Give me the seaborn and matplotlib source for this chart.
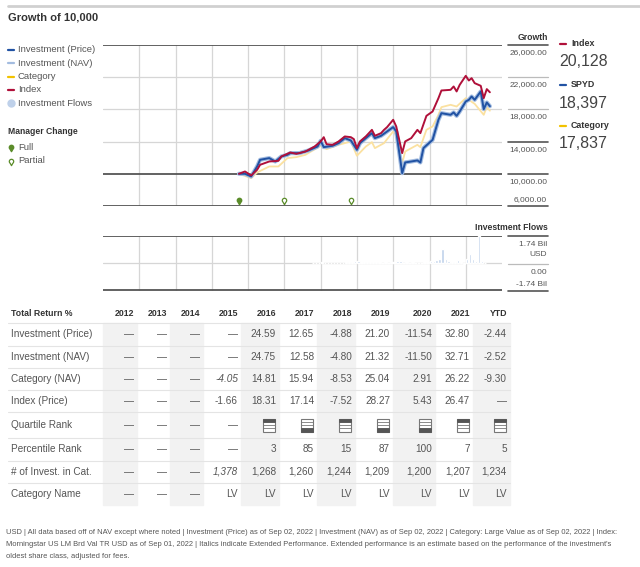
import numpy as np
import pandas as pd
import matplotlib.pyplot as plt
from matplotlib.lines import Line2D
from matplotlib.patches import Rectangle
from matplotlib.path import Path
import seaborn as sns

sns.set_theme(style='white')
plt.rcParams['font.family'] = ['Liberation Sans', 'DejaVu Sans']

# Growth of 10,000
index_dates = ['2015-10', '2015-12', '2016-02', '2016-04', '2016-05', '2016-08', '2016-11', '2016-12',
               '2017-03', '2017-05', '2017-08', '2017-11', '2018-01', '2018-02', '2018-03', '2018-05',
               '2018-07', '2018-09', '2018-11', '2018-12', '2019-01', '2019-02', '2019-04', '2019-06',
               '2019-07', '2019-09', '2019-10', '2019-11', '2020-01', '2020-02', '2020-04', '2020-05',
               '2020-07', '2020-09', '2020-10', '2020-12', '2021-02', '2021-04', '2021-05', '2021-08',
               '2021-09', '2021-10', '2021-11', '2022-01', '2022-02', '2022-03', '2022-04', '2022-06',
               '2022-07', '2022-08', '2022-09']
index_values = [10000, 10290, 9790, 10500, 11120, 11530, 11610, 12150,
                12650, 12480, 12770, 13390, 14020, 14550, 13680, 13600,
                14020, 14640, 14550, 14310, 13190, 14020, 14640, 15460,
                14720, 15050, 15460, 15800, 16710, 15880, 12570, 14020,
                14430, 15460, 15050, 17200, 17740, 19400, 20350, 20430,
                20850, 20230, 21050, 22170, 21590, 21880, 21260, 20930,
                19400, 20520, 20128]

price_dates = ['2015-10', '2015-12', '2016-02', '2016-04', '2016-05', '2016-08', '2016-10', '2016-12',
               '2017-02', '2017-03', '2017-06', '2017-09', '2017-12', '2018-01', '2018-02', '2018-05',
               '2018-07', '2018-09', '2018-11', '2019-01', '2019-02', '2019-04', '2019-06', '2019-07',
               '2019-09', '2019-11', '2020-01', '2020-02', '2020-04', '2020-05', '2020-07', '2020-09',
               '2020-10', '2020-11', '2021-02', '2021-04', '2021-05', '2021-08', '2021-09', '2021-10',
               '2021-11', '2022-01', '2022-02', '2022-03', '2022-04', '2022-06', '2022-07', '2022-08',
               '2022-09']
price_values = [10000, 10000, 9670, 10910, 11740, 11950, 11530, 12150,
                12360, 12570, 12570, 12900, 13390, 14100, 13310, 13480,
                13810, 14430, 14140, 12980, 13810, 14430, 15050, 14430,
                14720, 15260, 15800, 15260, 10080, 11410, 11530, 11660,
                11410, 13190, 14220, 16710, 17530, 17330, 17620, 17200,
                17740, 18980, 19190, 19600, 19190, 20230, 18030, 18860,
                18397]
nav_values = [10000, 10000, 9670, 10910, 11740, 11950, 11530, 12150,
              12360, 12570, 12570, 12900, 13390, 14100, 13310, 13480,
              13810, 14430, 14140, 12980, 13810, 14430, 15050, 14430,
              14720, 15260, 15800, 15260, 10080, 11410, 11530, 11660,
              11410, 13190, 14220, 16710, 17530, 17330, 17620, 17200,
              17740, 18980, 19190, 19600, 19190, 20230, 18030, 18860,
              18397]

cat_dates = ['2015-10', '2016-02', '2016-04', '2016-08', '2016-11', '2017-02', '2017-05', '2017-08',
             '2018-01', '2018-03', '2018-07', '2018-11', '2019-01', '2019-04', '2019-06', '2019-07',
             '2019-10', '2020-01', '2020-02', '2020-04', '2020-05', '2020-09', '2020-10', '2020-12',
             '2021-02', '2021-04', '2021-05', '2021-08', '2021-10', '2022-01', '2022-02', '2022-04',
             '2022-07', '2022-08', '2022-09']
cat_values = [10000, 9460, 10170, 10910, 10910, 11950, 12070, 12360,
              13480, 13060, 13600, 14020, 12240, 13390, 13930, 13190,
              13810, 15260, 14840, 11320, 12770, 13600, 13310, 15460,
              15880, 17330, 18280, 18570, 18360, 19400, 19190, 18690,
              17330, 18280, 17837]

# Investment flows, USD bil per month
flow_months = ['2017-10', '2017-11', '2017-12', '2018-01', '2018-02', '2018-03', '2018-04', '2018-05',
               '2018-06', '2018-07', '2018-08', '2018-09', '2018-10', '2018-11', '2018-12', '2019-01',
               '2019-02', '2019-03', '2019-04', '2019-05', '2019-06', '2019-07', '2019-08', '2019-09',
               '2019-10', '2019-11', '2019-12', '2020-01', '2020-02', '2020-03', '2020-04', '2020-05',
               '2020-06', '2020-07', '2020-08', '2020-09', '2020-10', '2020-11', '2020-12', '2021-01',
               '2021-02', '2021-03', '2021-04', '2021-05', '2021-06', '2021-07', '2021-08', '2021-09',
               '2021-10', '2021-11', '2021-12', '2022-01', '2022-02', '2022-03', '2022-04', '2022-05',
               '2022-06', '2022-07']
flow_values = [0.02, 0.03, 0.02, 0.04, 0.03, 0.02, 0.03, 0.03,
               0.02, 0.03, 0.03, 0.04, 0.05, 0.06, 0.14, 0.10,
               0.08, 0.09, 0.06, 0.08, 0.05, 0.04, 0.05, 0.03,
               0.04, 0.03, 0.04, 0.05, 0.12, 0.10, 0.02, 0.06,
               0.02, 0.04, 0.03, 0.02, 0.03, 0.05, 0.08, 0.10,
               0.14, 0.20, 0.25, 0.92, 0.29, 0.10, 0.04, 0.05,
               0.18, 0.06, -0.08, 0.25, 0.55, 0.25, 0.10, 1.72,
               0.10, 0.03]

manager_full = ['2015-10']
manager_partial = ['2017-01', '2018-11']

growth_ticks = [26000, 22000, 18000, 14000, 10000, 6000]

# Total return table
years = ['2012', '2013', '2014', '2015', '2016', '2017', '2018', '2019', '2020', '2021', 'YTD']
price_ret = ['—', '—', '—', '—', '24.59', '12.65', '-4.88', '21.20', '-11.54', '32.80', '-2.44']
nav_ret = ['—', '—', '—', '—', '24.75', '12.58', '-4.80', '21.32', '-11.50', '32.71', '-2.52']
cat_ret = ['—', '—', '—', '-4.05', '14.81', '15.94', '-8.53', '25.04', '2.91', '26.22', '-9.30']
idx_ret = ['—', '—', '—', '-1.66', '18.31', '17.14', '-7.52', '28.27', '5.43', '26.47', '—']
pct_rank = ['—', '—', '—', '—', '3', '85', '15', '87', '100', '7', '5']
n_invest = ['—', '—', '—', '1,378', '1,268', '1,260', '1,244', '1,209', '1,200', '1,207', '1,234']
cat_name = ['—', '—', '—', 'LV', 'LV', 'LV', 'LV', 'LV', 'LV', 'LV', 'LV']

footnote = ["USD | All data based off of NAV except where noted | Investment (Price) as of Sep 02, 2022 | "
            "Investment (NAV) as of Sep 02, 2022 | Category: Large Value as of Sep 02, 2022 | Index:",
            "Morningstar US LM Brd Val TR USD as of Sep 01, 2022 | Italics indicate Extended Performance. "
            "Extended performance is an estimate based on the performance of the investment's",
            "oldest share class, adjusted for fees."]

# colours
c_price = '#2152a3'
c_nav = '#a3bce0'
c_cat = '#fbe1a0'
c_cat_key = '#f2c200'
c_index = '#b0103a'
c_flow = '#bfd1ea'
c_green = '#5b8c2a'
c_text = '#555555'
c_dark = '#333333'
c_grid = '#d6d6d6'
c_axis = '#555555'

W, H = 640, 567
fig = plt.figure(figsize=(6.4, 5.67), dpi=100)


def fx(x):
    return x / W


def fy(y):
    return 1 - y / H


def ftext(x, y, s, **kw):
    kw.setdefault('color', c_text)
    kw.setdefault('va', 'center')
    fig.text(fx(x), fy(y), s, **kw)


def fline(x0, x1, y, color, lw):
    fig.add_artist(Line2D([fx(x0), fx(x1)], [fy(y), fy(y)], color=color, lw=lw,
                          transform=fig.transFigure))


def frect(x0, y0, x1, y1, **kw):
    fig.add_artist(Rectangle((fx(x0), fy(y1)), fx(x1) - fx(x0), fy(y0) - fy(y1),
                             transform=fig.transFigure, **kw))


# top rule and title
fline(8, 640, 6, '#d0d0d0', 2)
ftext(8, 18, 'Growth of 10,000', fontsize=8, fontweight='bold', color=c_dark)

# left legend
keys = [('Investment (Price)', c_price), ('Investment (NAV)', c_nav),
        ('Category', c_cat_key), ('Index', c_index)]
for i, (lab, col) in enumerate(keys):
    y = 50 + i * 13.3
    fline(8, 14, y, col, 1.6)
    ftext(18, y, lab, fontsize=6.8)
fig.add_artist(Line2D([fx(11)], [fy(103)], marker='o', ms=5, color=c_flow, transform=fig.transFigure))
ftext(18, 103, 'Investment Flows', fontsize=6.8)
ftext(8, 132, 'Manager Change', fontsize=6.2, fontweight='bold', color=c_dark)

t = np.radians(np.linspace(-50, 230, 30))
pin = Path(list(zip(np.cos(t), np.sin(t))) + [(0, -1.9), (np.cos(t[0]), np.sin(t[0]))], closed=True)
fig.add_artist(Line2D([fx(10.5)], [fy(147)], marker=pin, ms=6, color=c_green, transform=fig.transFigure))
fig.add_artist(Line2D([fx(10.5)], [fy(161)], marker=pin, ms=6, color=c_green, mfc='white',
                      mew=0.9, transform=fig.transFigure))
ftext(18, 147, 'Full', fontsize=6.8)
ftext(18, 161, 'Partial', fontsize=6.8)

# growth chart
x0, x1 = pd.Timestamp('2012-01-01'), pd.Timestamp('2023-01-01')
year_lines = pd.date_range('2013-01-01', '2022-01-01', freq='YS')

ax = fig.add_axes([fx(103), fy(206), fx(502) - fx(103), fy(45) - fy(206)])
for d in year_lines:
    ax.axvline(d, color=c_grid, lw=0.9, zorder=0)
for v in growth_ticks:
    dark = v in (26000, 10000, 6000)
    ax.axhline(v, color=c_axis if dark else c_grid, lw=1.3 if dark else 0.9, zorder=1)

sns.lineplot(x=pd.to_datetime(cat_dates), y=cat_values, ax=ax, color=c_cat, lw=1.3, zorder=3)
sns.lineplot(x=pd.to_datetime(price_dates), y=nav_values, ax=ax, color=c_nav, lw=3.0, zorder=4)
sns.lineplot(x=pd.to_datetime(price_dates), y=price_values, ax=ax, color=c_price, lw=1.4, zorder=5)
sns.lineplot(x=pd.to_datetime(index_dates), y=index_values, ax=ax, color=c_index, lw=1.4, zorder=6)

ax.plot(pd.to_datetime(manager_full), [6750] * len(manager_full), ls='none', marker=pin, ms=6,
        color=c_green, clip_on=False, zorder=7)
ax.plot(pd.to_datetime(manager_partial), [6750] * len(manager_partial), ls='none', marker=pin, ms=6,
        color=c_green, mfc='white', mew=0.9, clip_on=False, zorder=7)
ax.set_xlim(x0, x1)
ax.set_ylim(6000, 26000)
ax.axis('off')

# right axis labels for growth
ftext(548, 37, 'Growth', fontsize=6.2, fontweight='bold', color=c_dark, ha='right')
for v in growth_ticks:
    yl = 206 - (v - 6000) / 20000 * 161
    dark = v in (26000, 14000, 10000, 6000)
    fline(508, 548, yl, c_axis if dark else '#bbbbbb', 1.2 if dark else 0.9)
    ly = yl - 6 if v == 6000 else yl + 7.5
    ftext(547, ly, f'{v:,.2f}', fontsize=6, ha='right')

# end values legend
ends = [('Index', c_index, index_values[-1], 44), ('SPYD', c_price, price_values[-1], 85),
        ('Category', c_cat_key, cat_values[-1], 126)]
for lab, col, val, y in ends:
    fline(560, 566, y, col, 1.6)
    ftext(571, y, lab, fontsize=6.4, fontweight='bold', color=c_dark)
    ftext(559, y + 18, f'{val:,}', fontsize=11.5, color='#444444')

# investment flows
ax2 = fig.add_axes([fx(103), fy(291), fx(502) - fx(103), fy(236) - fy(291)])
for d in year_lines:
    ax2.axvline(d, color=c_grid, lw=0.9, zorder=0)
ax2.axhline(1.74, color=c_axis, lw=1.3)
ax2.axhline(-1.74, color=c_axis, lw=1.3)
ax2.axhline(0, color=c_grid, lw=0.9, zorder=1)
ax2.bar(pd.to_datetime(flow_months), flow_values, width=26, align='edge', color=c_flow, zorder=2)
ax2.set_xlim(x0, x1)
ax2.set_ylim(-1.8, 1.74)
ax2.axis('off')

ftext(548, 228, 'Investment Flows', fontsize=6.2, fontweight='bold', color=c_dark, ha='right')
fline(508, 548, 236, c_axis, 1.2)
fline(508, 548, 264, '#bbbbbb', 0.9)
fline(508, 548, 291, c_axis, 1.2)
ftext(547, 245, '1.74 Bil', fontsize=6, ha='right')
ftext(547, 255, 'USD', fontsize=6, ha='right')
ftext(547, 272, '0.00', fontsize=6, ha='right')
ftext(547, 285, '-1.74 Bil', fontsize=6, ha='right')

# table
col_edges = [103, 137, 170, 203, 241, 279, 317, 355, 393, 435, 473, 510]
for i in range(0, len(years), 2):
    frect(col_edges[i], 323, col_edges[i + 1], 505, color='#f2f2f2', zorder=0)
for y in [323, 346, 368, 390, 412, 438, 461, 483]:
    fline(8, 510, y, '#e4e4e4', 0.8)

ftext(11, 313, 'Total Return %', fontsize=6.3, fontweight='bold', color=c_dark)
for i, yr in enumerate(years):
    ftext(col_edges[i + 1] - 3, 313, yr, fontsize=6.3, fontweight='bold', color=c_dark, ha='right')

rows = [('Investment (Price)', price_ret, 334), ('Investment (NAV)', nav_ret, 357),
        ('Category (NAV)', cat_ret, 379), ('Index (Price)', idx_ret, 401),
        ('Quartile Rank', None, 425), ('Percentile Rank', pct_rank, 449),
        ('# of Invest. in Cat.', n_invest, 472), ('Category Name', cat_name, 494)]
italic_rows = ('Category (NAV)', '# of Invest. in Cat.')
for lab, vals, y in rows:
    ftext(11, y, lab, fontsize=7.2)
    for i in range(len(years)):
        xr = col_edges[i + 1] - 3
        if vals is None:
            p = pct_rank[i]
            if p == '—':
                ftext(xr, y, '—', fontsize=7.2, ha='right')
                continue
            q = min(4, int(np.ceil(int(p) / 25)))
            bx0, bx1 = xr - 13, xr - 1
            by0 = y - 6.5
            frect(bx0, by0, bx1, by0 + 13, facecolor='white', edgecolor='#777777', lw=0.8, zorder=2)
            frect(bx0, by0 + (q - 1) * 3.25, bx1, by0 + q * 3.25, facecolor='#555555',
                  edgecolor='#555555', lw=0.5, zorder=3)
            for k in (1, 2, 3):
                fline(bx0, bx1, by0 + k * 3.25, '#777777', 0.6)
        else:
            style = 'italic' if (lab in italic_rows and i == 3) else 'normal'
            ftext(xr, y, vals[i], fontsize=7.2, ha='right', style=style)

for k, line in enumerate(footnote):
    ftext(6, 533 + k * 11.5, line, fontsize=5.45)

fig.savefig('out.png', dpi=100)
